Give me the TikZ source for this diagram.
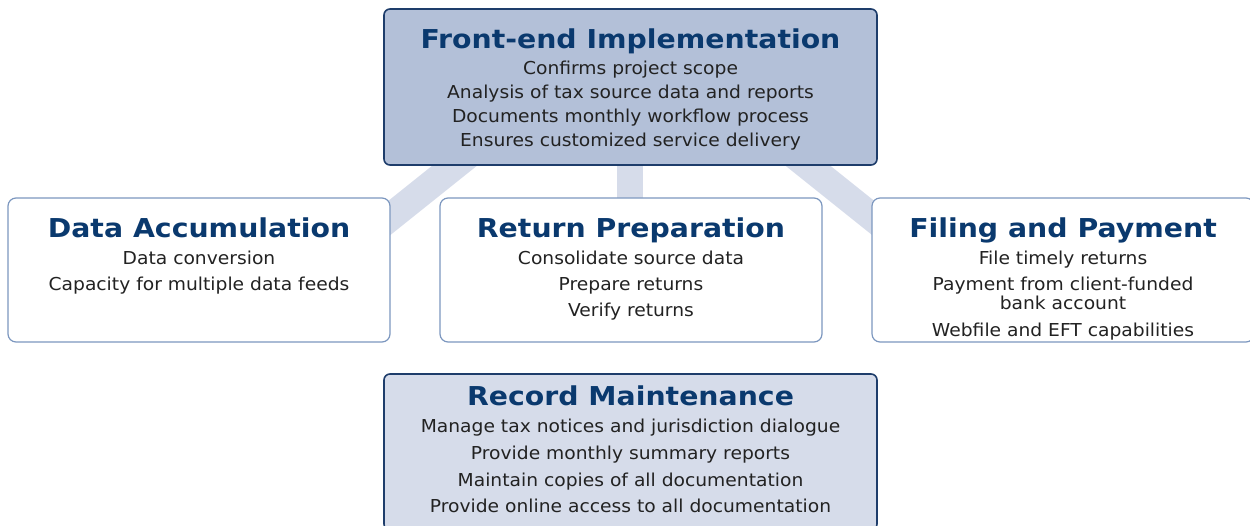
\documentclass[tikz,border=0pt]{standalone}
\usepackage{fontspec}
\newfontfamily\bodyff{DejaVu Sans}[FakeStretch=1.05]
\newfontfamily\titleff{DejaVu Sans}[FakeStretch=1.09]
\definecolor{topfill}{RGB}{179,192,216}
\definecolor{lightfill}{RGB}{214,220,234}
\definecolor{darkborder}{RGB}{30,61,107}
\definecolor{lightborder}{RGB}{124,151,191}
\definecolor{titleblue}{RGB}{10,57,110}
\definecolor{textgray}{RGB}{34,34,34}
\tikzset{
  bar/.style={draw=lightfill, line width=28pt},
  mainbox/.style={draw=darkborder, line width=1.6pt, rounded corners=6pt},
  subbox/.style={draw=lightborder, fill=white, line width=1.2pt, rounded corners=8pt},
  ttl/.style={font=\titleff\bfseries\fontsize{26}{30}\selectfont, text=titleblue, inner sep=0pt, anchor=base},
  bodytxt/.style={font=\bodyff\fontsize{17.8}{20}\selectfont, text=textgray, inner sep=0pt, anchor=base}
}
\begin{document}
\begin{tikzpicture}[x=1pt,y=-1pt]
\useasboundingbox (0,0) rectangle (1250,526);
\clip (0,0) rectangle (1250,526);
% connector bars
\coordinate (lbA) at (536.75,100);
\coordinate (lbB) at (330.5,265);
\coordinate (mbA) at (630,120);
\coordinate (mbB) at (630,250);
\coordinate (rbA) at (725.75,100);
\coordinate (rbB) at (932,265);
\draw[bar] (lbA) -- (lbB);
\draw[bar, line width=26.6pt] (mbA) -- (mbB);
\draw[bar] (rbA) -- (rbB);
% boxes
\draw[mainbox, fill=topfill] (384,9) rectangle (877,165);
\node[inner sep=0] (top) at (630.5,87) {};
\draw[subbox] (8,198) rectangle (390,342);
\node[inner sep=0] (left) at (199,270) {};
\draw[subbox] (440,198) rectangle (822,342);
\node[inner sep=0] (mid) at (631,270) {};
\draw[subbox] (872,198) rectangle (1254,342);
\node[inner sep=0] (right) at (1063,270) {};
\draw[mainbox, fill=lightfill] (384,374) rectangle (877,530);
\node[inner sep=0] (bot) at (630.5,452) {};
% top texts
\node[ttl] (t0) at (630.5,49) {Front-end Implementation};
\node[bodytxt] (t1) at (630.5,74.5) {Confirms project scope};
\node[bodytxt] (t2) at (630.5,99) {Analysis of tax source data and reports};
\node[bodytxt] (t3) at (630.5,123) {Documents monthly workflow process};
\node[bodytxt] (t4) at (630.5,147) {Ensures customized service delivery};
% left texts
\node[ttl] (l0) at (199,238) {Data Accumulation};
\node[bodytxt] (l1) at (199,265) {Data conversion};
\node[bodytxt] (l2) at (199,291) {Capacity for multiple data feeds};
% middle texts
\node[ttl] (m0) at (631,238) {Return Preparation};
\node[bodytxt] (m1) at (631,265) {Consolidate source data};
\node[bodytxt] (m2) at (631,291) {Prepare returns};
\node[bodytxt] (m3) at (631,317) {Verify returns};
% right texts
\node[ttl] (r0) at (1063,238) {Filing and Payment};
\node[bodytxt] (r1) at (1063,264.3) {File timely returns};
\node[bodytxt] (r2) at (1063,290.7) {Payment from client-funded};
\node[bodytxt] (r3) at (1063,309.3) {bank account};
\node[bodytxt] (r4) at (1063,336.7) {Webfile and EFT capabilities};
% bottom texts
\node[ttl] (b0) at (630.5,406) {Record Maintenance};
\node[bodytxt] (b1) at (630.5,432.7) {Manage tax notices and jurisdiction dialogue};
\node[bodytxt] (b2) at (630.5,459.3) {Provide monthly summary reports};
\node[bodytxt] (b3) at (630.5,486) {Maintain copies of all documentation};
\node[bodytxt] (b4) at (630.5,512.7) {Provide online access to all documentation};
\end{tikzpicture}
\end{document}
